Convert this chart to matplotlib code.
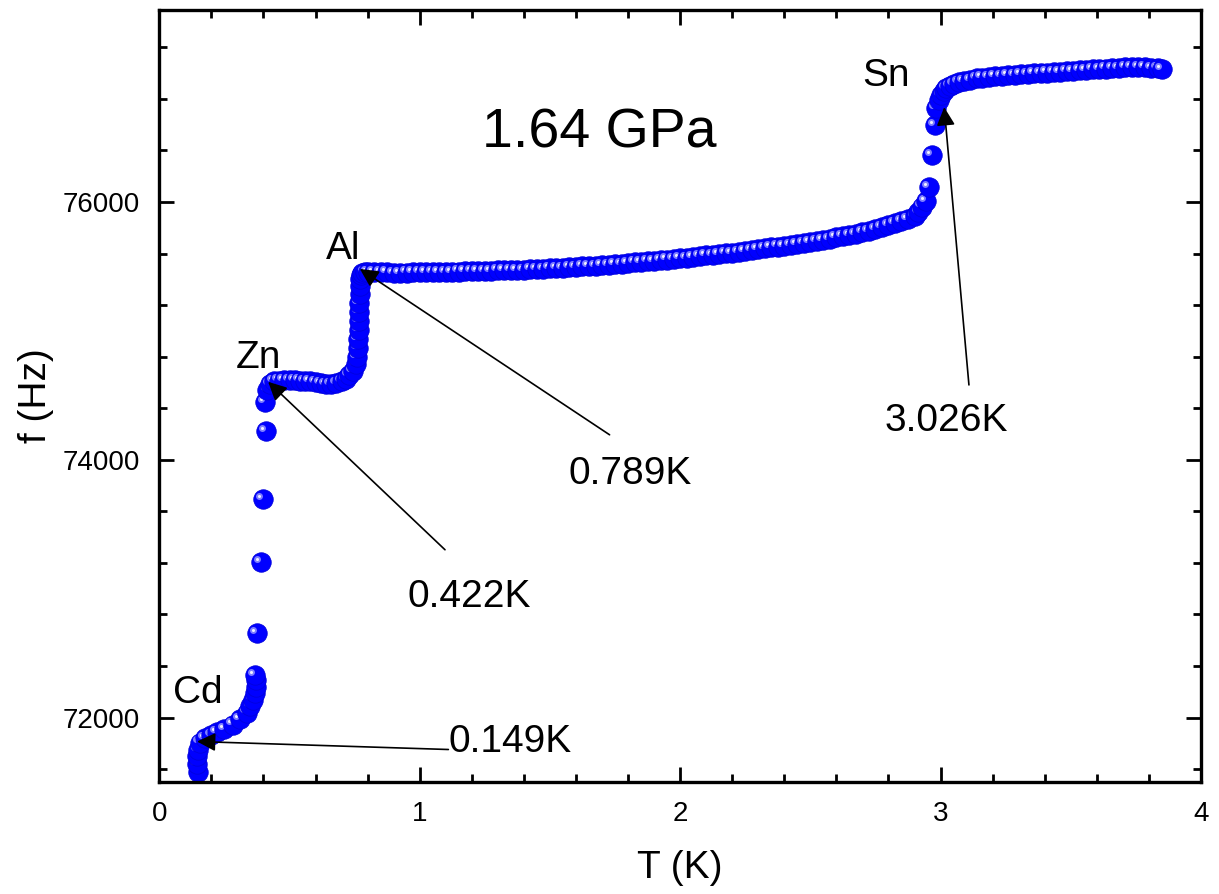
import numpy as np
import matplotlib
matplotlib.use("Agg")
import matplotlib.pyplot as plt
from matplotlib.ticker import MultipleLocator
from matplotlib.transforms import offset_copy

plt.rcParams['font.family'] = ['Liberation Sans', 'DejaVu Sans']

# ---- data (T in K, f in Hz) ----
# Cd transition and steep rise up to the Zn plateau
t_cd = [0.149, 0.146, 0.145, 0.148, 0.157, 0.175, 0.200, 0.222, 0.250, 0.283,
        0.310, 0.337, 0.350, 0.359, 0.366, 0.371, 0.370, 0.367, 0.375, 0.390,
        0.398, 0.409, 0.406]
f_cd = [71581, 71640, 71698, 71750, 71806, 71840, 71865, 71884, 71910, 71946,
        71985, 72039, 72090, 72140, 72190, 72240, 72290, 72333, 72659, 73209,
        73698, 74225, 74450]

# Zn plateau
t_zn = [0.415, 0.425, 0.440, 0.460, 0.480, 0.500, 0.520, 0.540, 0.560, 0.580,
        0.600, 0.620, 0.640, 0.660, 0.680, 0.700, 0.715, 0.728]
f_zn = [74540, 74588, 74608, 74615, 74620, 74622, 74618, 74615, 74612, 74608,
        74600, 74592, 74586, 74588, 74596, 74610, 74630, 74655]

# Al step
t_al_step = [0.745, 0.755, 0.760, 0.762, 0.764, 0.765, 0.766, 0.767, 0.768, 0.769,
             0.770, 0.772, 0.775, 0.780, 0.788]
f_al_step = [74690, 74740, 74800, 74870, 74940, 75010, 75080, 75150, 75220, 75290,
             75350, 75400, 75430, 75450, 75458]

# Al plateau
t_al = [0.800, 0.825, 0.850, 0.875, 0.900, 0.925, 0.950, 0.975, 1.000, 1.025,
        1.050, 1.075, 1.100, 1.125, 1.150, 1.175, 1.200, 1.225, 1.250, 1.275,
        1.300, 1.325, 1.350, 1.375, 1.400, 1.425, 1.450, 1.475, 1.500, 1.525,
        1.550, 1.575, 1.600, 1.625, 1.650, 1.675, 1.700, 1.725, 1.750, 1.775,
        1.800, 1.825, 1.850, 1.875, 1.900, 1.925, 1.950, 1.975, 2.000, 2.025,
        2.050, 2.075, 2.100, 2.125, 2.150, 2.175, 2.200, 2.225, 2.250, 2.275,
        2.300, 2.325, 2.350, 2.375, 2.400, 2.425, 2.450, 2.475, 2.500, 2.525,
        2.550, 2.575, 2.600, 2.625, 2.650, 2.675, 2.700, 2.725, 2.750, 2.775,
        2.800, 2.825, 2.850, 2.875, 2.900, 2.915, 2.930, 2.945]
f_al = [75458, 75460, 75458, 75455, 75452, 75452, 75453, 75455, 75456, 75455,
        75457, 75458, 75460, 75459, 75461, 75463, 75464, 75463, 75466, 75468,
        75469, 75470, 75472, 75474, 75476, 75478, 75480, 75483, 75485, 75488,
        75490, 75494, 75497, 75500, 75503, 75506, 75510, 75514, 75518, 75521,
        75526, 75531, 75536, 75540, 75545, 75550, 75554, 75559, 75564, 75569,
        75575, 75580, 75586, 75591, 75597, 75602, 75608, 75615, 75621, 75628,
        75634, 75641, 75648, 75655, 75662, 75669, 75676, 75684, 75692, 75700,
        75708, 75716, 75725, 75735, 75745, 75755, 75766, 75778, 75790, 75803,
        75818, 75834, 75851, 75870, 75893, 75925, 75965, 76005]

# Sn step and plateau
t_sn = [2.956, 2.968, 2.979, 2.983, 2.995, 3.002, 3.012, 3.022, 3.037, 3.052,
        3.070, 3.091, 3.115, 3.140, 3.160, 3.185, 3.210, 3.235, 3.260, 3.285,
        3.310, 3.335, 3.360, 3.385, 3.410, 3.435, 3.460, 3.485, 3.510, 3.535,
        3.560, 3.585, 3.610, 3.635, 3.660, 3.685, 3.710, 3.735, 3.760, 3.785,
        3.810, 3.835, 3.850]
f_sn = [76116, 76364, 76597, 76729, 76790, 76830, 76862, 76884, 76902, 76915,
        76928, 76938, 76950, 76960, 76966, 76972, 76976, 76980, 76984, 76988,
        76991, 76995, 76998, 77002, 77005, 77009, 77012, 77016, 77020, 77023,
        77027, 77030, 77033, 77036, 77039, 77042, 77044, 77045, 77045, 77044,
        77042, 77039, 77034]

temp = t_cd + t_zn + t_al_step + t_al + t_sn
freq = f_cd + f_zn + f_al_step + f_al + f_sn

# transition labels: element name, Tc text and the arrow pointing at the onset
elements = ["Cd", "Zn", "Al", "Sn"]
elem_pos = [(0.149, 72116), (0.382, 74713), (0.705, 75558), (2.791, 76899)]
tc_text = ["0.149K", "0.422K", "0.789K", "3.026K"]
tc_pos = [(1.349, 71736), (1.192, 72860), (1.809, 73814), (3.021, 74225)]
arrow_tip = [(0.145, 71814), (0.418, 74605), (0.770, 75481), (3.014, 76736)]
arrow_tail = [(1.110, 71752), (1.097, 73302), (1.729, 74194), (3.109, 74581)]

# ---- figure ----
fig = plt.figure(figsize=(12.19, 8.94), dpi=100)
ax = fig.add_axes([0.1307, 0.1253, 0.8545, 0.8635])

# shaded "sphere" markers: blue ball plus a light highlight up-left
hl = offset_copy(ax.transData, fig=fig, x=-2.8, y=2.2, units='points')
for i, (t, f) in enumerate(zip(temp, freq)):
    z = 2 + i * 1e-3
    ax.plot(t, f, 'o', ms=14, mfc='#0000ff', mec='#0000dd', mew=0.6, zorder=z)
    ax.plot(t, f, 'o', ms=5, mfc='#7f7fff', mec='none', transform=hl, zorder=z + 2e-4)
    ax.plot(t, f, 'o', ms=2.2, mfc='#f0f0ff', mec='none', transform=hl, zorder=z + 4e-4)

for name, (x, y) in zip(elements, elem_pos):
    ax.text(x, y, name, fontsize=28, ha='center', va='baseline')
for s, (x, y) in zip(tc_text, tc_pos):
    ax.text(x, y, s, fontsize=28, ha='center', va='baseline')
for tip, tail in zip(arrow_tip, arrow_tail):
    ax.annotate('', xy=tip, xytext=tail,
                arrowprops=dict(arrowstyle='-|>', color='black', lw=1.2,
                                mutation_scale=28, shrinkA=0, shrinkB=0))

ax.text(1.690, 76426, "1.64 GPa", fontsize=40, ha='center', va='baseline')

ax.set_xlim(0, 4)
ax.set_ylim(71500, 77490)
ax.xaxis.set_major_locator(MultipleLocator(1))
ax.xaxis.set_minor_locator(MultipleLocator(0.2))
ax.yaxis.set_major_locator(MultipleLocator(2000))
ax.yaxis.set_minor_locator(MultipleLocator(400))

for sp in ax.spines.values():
    sp.set_linewidth(2.4)
ax.tick_params(which='both', direction='in', top=True, right=True, width=2)
ax.tick_params(which='major', length=11, labelsize=20, pad=14)
ax.tick_params(which='minor', length=6)

ax.set_xlabel("T (K)", fontsize=28, labelpad=16)
ax.set_ylabel("f (Hz)", fontsize=28, labelpad=6)

fig.savefig("out.png", dpi=100)
